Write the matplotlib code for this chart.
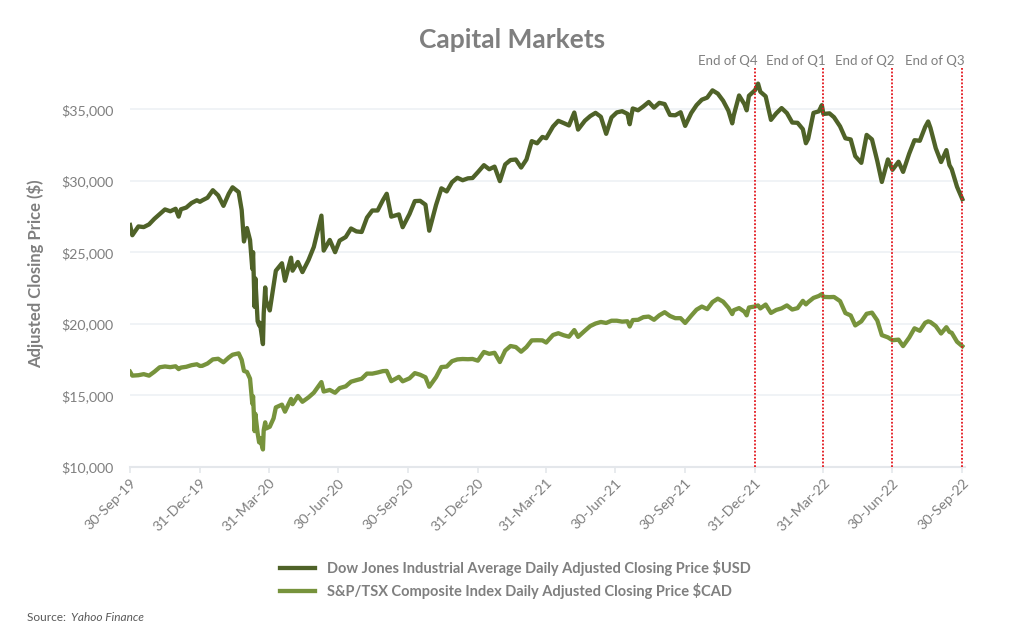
import matplotlib
matplotlib.use('Agg')
import pandas as pd
import matplotlib.pyplot as plt
import matplotlib.dates as mdates
import matplotlib.transforms as mtransforms
from matplotlib.ticker import FuncFormatter

plt.rcParams['font.family'] = ['Lato', 'DejaVu Sans']

# weekly-ish closes
dates = [
    "2019-09-30", "2019-10-03", "2019-10-11", "2019-10-18", "2019-10-25", "2019-11-01", "2019-11-08", "2019-11-15",
    "2019-11-22", "2019-11-29", "2019-12-03", "2019-12-06", "2019-12-13", "2019-12-20", "2019-12-27", "2019-12-31",
    "2020-01-03", "2020-01-10", "2020-01-17", "2020-01-24", "2020-01-31", "2020-02-07", "2020-02-12", "2020-02-20",
    "2020-02-24", "2020-02-27", "2020-03-02", "2020-03-06", "2020-03-09", "2020-03-10", "2020-03-12", "2020-03-13",
    "2020-03-16", "2020-03-18", "2020-03-19", "2020-03-23", "2020-03-24", "2020-03-26", "2020-03-27", "2020-04-01",
    "2020-04-06", "2020-04-09", "2020-04-17", "2020-04-21", "2020-04-29", "2020-05-01", "2020-05-08", "2020-05-14",
    "2020-05-22", "2020-05-29", "2020-06-08", "2020-06-11", "2020-06-19", "2020-06-26", "2020-07-02", "2020-07-10",
    "2020-07-17", "2020-07-24", "2020-07-31", "2020-08-07", "2020-08-14", "2020-08-21", "2020-08-28", "2020-09-02",
    "2020-09-08", "2020-09-18", "2020-09-23", "2020-10-02", "2020-10-09", "2020-10-16", "2020-10-23", "2020-10-28",
    "2020-11-06", "2020-11-13", "2020-11-20", "2020-11-27", "2020-12-04", "2020-12-11", "2020-12-18", "2020-12-24",
    "2020-12-31",
    "2021-01-08", "2021-01-15", "2021-01-22", "2021-01-29", "2021-02-05", "2021-02-12", "2021-02-19", "2021-02-26",
    "2021-03-05", "2021-03-12", "2021-03-19", "2021-03-26", "2021-03-31", "2021-04-09", "2021-04-16", "2021-04-23",
    "2021-04-30", "2021-05-07", "2021-05-12", "2021-05-21", "2021-05-28", "2021-06-04", "2021-06-11", "2021-06-18",
    "2021-06-25", "2021-07-02", "2021-07-09", "2021-07-16", "2021-07-19", "2021-07-23", "2021-07-30", "2021-08-06",
    "2021-08-13", "2021-08-20", "2021-08-27", "2021-09-03", "2021-09-10", "2021-09-17", "2021-09-24", "2021-09-30",
    "2021-10-08", "2021-10-15", "2021-10-22", "2021-10-29", "2021-11-05", "2021-11-12", "2021-11-19", "2021-11-26",
    "2021-12-01", "2021-12-03", "2021-12-10", "2021-12-17", "2021-12-20", "2021-12-23", "2021-12-31",
    "2022-01-04", "2022-01-07", "2022-01-14", "2022-01-21", "2022-01-28", "2022-02-04", "2022-02-11", "2022-02-18",
    "2022-02-25", "2022-03-04", "2022-03-08", "2022-03-11", "2022-03-18", "2022-03-25", "2022-03-29", "2022-03-31",
    "2022-04-08", "2022-04-14", "2022-04-22", "2022-04-29", "2022-05-06", "2022-05-12", "2022-05-20", "2022-05-27",
    "2022-06-03", "2022-06-10", "2022-06-16", "2022-06-24", "2022-06-30", "2022-07-08", "2022-07-14", "2022-07-22",
    "2022-07-29", "2022-08-05", "2022-08-12", "2022-08-16", "2022-08-19", "2022-08-26", "2022-09-02", "2022-09-09",
    "2022-09-13", "2022-09-16", "2022-09-23", "2022-09-30",
]

dow = [
    26917, 26201, 26817, 26770, 26958, 27347, 27681, 28005, 27876, 28051, 27503, 28015, 28135, 28455, 28645, 28538,
    28634, 28824, 29348, 28990, 28256, 29102, 29551, 29219, 27961, 25766, 26703, 25864, 23851, 25018, 21200, 23186,
    20189, 19899, 20087, 18591, 20704, 22552, 21636, 20943, 22680, 23719, 24242, 23019, 24634, 23723, 24331, 23625,
    24465, 25383, 27572, 25128, 25871, 25016, 25827, 26075, 26672, 26469, 26428, 27433, 27931, 27930, 28654, 29100,
    27500, 27657, 26763, 27683, 28587, 28606, 28336, 26519, 28323, 29480, 29263, 29910, 30218, 30046, 30179, 30200,
    30606,
    31098, 30814, 30997, 29983, 31148, 31458, 31494, 30932, 31496, 32779, 32628, 33072, 32982, 33801, 34200, 34043,
    33875, 34778, 33587, 34208, 34529, 34756, 34480, 33290, 34434, 34786, 34870, 34687, 33962, 35062, 34935, 35209,
    35515, 35120, 35456, 35369, 34608, 34585, 34798, 33844, 34746, 35295, 35677, 35820, 36328, 36100, 35602, 34899,
    34022, 34580, 35971, 35365, 34932, 35950, 36338,
    36799, 36231, 35912, 34265, 34725, 35089, 34738, 34079, 34059, 33614, 32632, 32944, 34754, 34861, 35294, 34678,
    34721, 34451, 33811, 32977, 32899, 31730, 31262, 33213, 32900, 31393, 29927, 31500, 30775, 31338, 30630, 31899,
    32845, 32803, 33761, 34152, 33706, 32283, 31318, 32151, 31105, 30822, 29590, 28726,
]

tsx = [
    16659, 16387, 16416, 16490, 16386, 16656, 16970, 17028, 16980, 17040, 16844, 16950, 17004, 17118, 17180, 17063,
    17071, 17235, 17522, 17565, 17318, 17655, 17848, 17944, 17490, 16717, 16641, 16175, 14425, 14942, 12508, 13716,
    12360, 11721, 12024, 11228, 12571, 13121, 12688, 12815, 13400, 14166, 14359, 13868, 14761, 14392, 14966, 14560,
    14867, 15193, 15936, 15276, 15385, 15189, 15515, 15639, 15962, 16070, 16169, 16529, 16526, 16605, 16702, 16717,
    16000, 16300, 15990, 16199, 16562, 16449, 16272, 15611, 16282, 16986, 17020, 17397, 17521, 17549, 17535, 17552,
    17433,
    18042, 17910, 17985, 17337, 18137, 18457, 18385, 18060, 18382, 18851, 18860, 18852, 18701, 19229, 19351, 19210,
    19108, 19573, 19097, 19530, 19852, 20030, 20138, 20069, 20225, 20226, 20160, 20188, 19818, 20272, 20288, 20475,
    20515, 20290, 20604, 20821, 20556, 20402, 20402, 20070, 20577, 20998, 21216, 21037, 21530, 21768, 21557, 21125,
    20690, 20961, 21109, 20856, 20602, 21149, 21223,
    21294, 21085, 21356, 20771, 20979, 21089, 21296, 21007, 21106, 21614, 21368, 21523, 21821, 21955, 22087, 21890,
    21874, 21887, 21597, 20762, 20592, 19897, 20181, 20710, 20790, 20245, 19218, 19062, 18861, 18902, 18453, 19043,
    19693, 19522, 20079, 20180, 20130, 19852, 19331, 19773, 19442, 19381, 18757, 18444,
]

tick_dates = ["2019-09-30", "2019-12-31", "2020-03-31", "2020-06-30", "2020-09-30", "2020-12-31", "2021-03-31",
              "2021-06-30", "2021-09-30", "2021-12-31", "2022-03-31", "2022-06-30", "2022-09-30"]
quarter_dates = ["2021-12-31", "2022-03-31", "2022-06-30", "2022-09-30"]
quarter_labels = ["End of Q4", "End of Q1", "End of Q2", "End of Q3"]

dow_label = "Dow Jones Industrial Average Daily Adjusted Closing Price $USD"
tsx_label = "S&P/TSX Composite Index Daily Adjusted Closing Price $CAD"

GREY = '#7f7f7f'
x = pd.to_datetime(dates)

fig = plt.figure(figsize=(10.24, 6.25), dpi=100)
ax = fig.add_axes([0.127, 0.2528, 0.815, 0.618])

ax.plot(x, dow, color='#4f6228', lw=3.1, label=dow_label, zorder=3, solid_joinstyle='round')
ax.plot(x, tsx, color='#77933c', lw=3.1, label=tsx_label, zorder=3, solid_joinstyle='round')

trans = mtransforms.blended_transform_factory(ax.transData, ax.transAxes)
for d, lab in zip(quarter_dates, quarter_labels):
    d = pd.Timestamp(d)
    ax.plot([d, d], [0, 1.034], transform=trans, color='#e3161d', lw=1.3, ls=(0, (1, 1)),
            clip_on=False, zorder=4)
    ax.text(d + pd.Timedelta(days=3), 1.052, lab, transform=trans, ha='right', va='center',
            fontsize=9.5, color=GREY)

ax.set_xlim(pd.Timestamp("2019-09-30"), pd.Timestamp("2022-10-03"))
ax.set_ylim(10000, 37000)
ax.set_yticks(range(10000, 35001, 5000))
ax.yaxis.set_major_formatter(FuncFormatter(lambda v, p: f"${v:,.0f}"))
ax.set_xticks(pd.to_datetime(tick_dates))
ax.xaxis.set_major_formatter(mdates.DateFormatter('%d-%b-%y'))
plt.setp(ax.get_xticklabels(), rotation=45, ha='right', rotation_mode='anchor')

ax.grid(axis='y', color='#eef1f5', lw=1.2)
ax.set_axisbelow(True)
for s in ['top', 'right', 'left']:
    ax.spines[s].set_visible(False)
ax.spines['bottom'].set_color('#e4e7eb')
ax.spines['bottom'].set_linewidth(1.5)
ax.tick_params(axis='y', length=0, labelsize=10.2, labelcolor=GREY, pad=12)
ax.tick_params(axis='x', length=4, color='#e4e7eb', width=1.2, labelsize=10.2, labelcolor=GREY, pad=3)

ax.set_ylabel("Adjusted Closing Price ($)", fontsize=12, fontweight='bold', color=GREY, labelpad=12)
fig.suptitle("Capital Markets", x=0.5, y=0.956, fontsize=19, fontweight='bold', color=GREY)

fig.legend(loc='center', bbox_to_anchor=(0.503, 0.073), frameon=False, ncol=1, handlelength=2.4,
           labelspacing=0.45, prop={'weight': 'bold', 'size': 10.5}, labelcolor=GREY)

fig.text(0.026, 0.007, "Source: ", fontsize=8.6, color='#595959')
fig.text(0.026 + 0.043, 0.007, "Yahoo Finance", fontsize=8.6, color='#595959', style='italic')

fig.savefig('out.png', dpi=100)
